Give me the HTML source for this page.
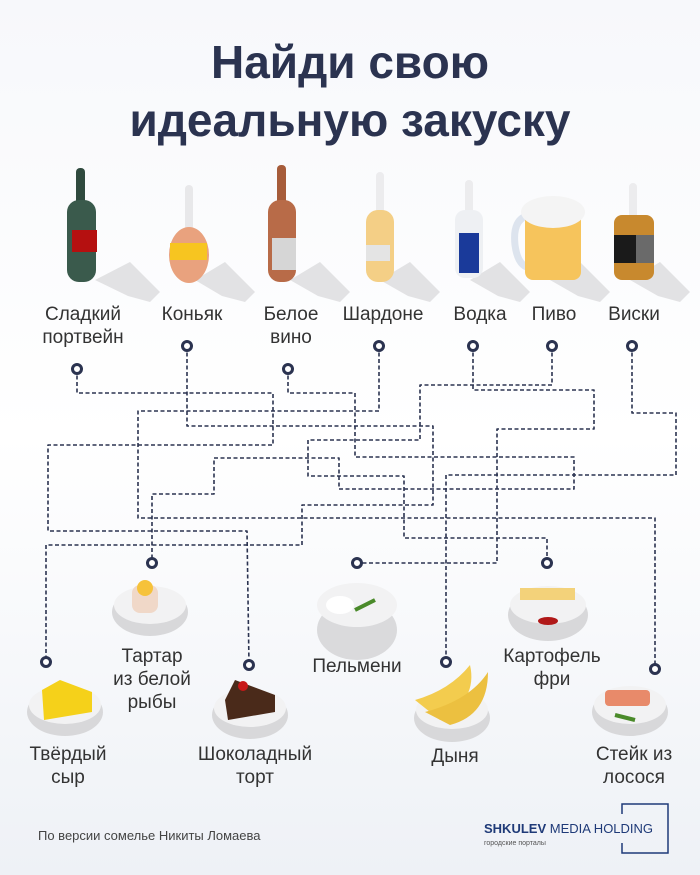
<!DOCTYPE html>
<html><head><meta charset="utf-8"><style>
html,body{margin:0;padding:0;background:#fff}
svg{display:block}
text{font-family:"Liberation Sans",sans-serif}
</style></head><body>
<svg width="700" height="875" viewBox="0 0 700 875" xmlns="http://www.w3.org/2000/svg">
<defs>
<linearGradient id="bg" x1="0" y1="0" x2="0" y2="1"><stop offset="0" stop-color="#f7f8fb"/><stop offset="0.5" stop-color="#ffffff"/><stop offset="1" stop-color="#eef1f6"/></linearGradient>
</defs>
<rect width="700" height="875" fill="url(#bg)"/>
<g fill="#2b3350" font-weight="bold" font-size="46" text-anchor="middle">
<text x="350" y="78">Найди свою</text>
<text x="350" y="136">идеальную закуску</text>
</g>

<g fill="#e2e2e4">
<polygon points="95,280 130,262 160,292 150,302 128,296"/>
<polygon points="195,280 225,262 255,292 245,302 222,296"/>
<polygon points="290,280 320,262 350,292 340,302 318,296"/>
<polygon points="380,280 410,262 440,292 430,302 408,296"/>
<polygon points="470,280 500,262 530,292 520,302 498,296"/>
<polygon points="550,280 580,262 610,292 600,302 578,296"/>
<polygon points="630,280 660,262 690,292 680,302 658,296"/>
</g>
<rect x="76" y="168" width="9" height="40" rx="4" fill="#2f4a3e"/>
<rect x="67" y="200" width="29" height="82" rx="12" fill="#3a5a4c"/>
<rect x="72" y="230" width="25" height="22" fill="#b51010"/>
<rect x="185" y="185" width="8" height="45" rx="4" fill="#e8e8ea"/>
<ellipse cx="189" cy="255" rx="20" ry="28" fill="#e9a27e"/>
<rect x="170" y="243" width="37" height="17" fill="#f7c520"/>
<rect x="277" y="165" width="9" height="45" rx="4" fill="#a65c3a"/>
<rect x="268" y="200" width="28" height="82" rx="12" fill="#b86b48"/>
<rect x="272" y="238" width="24" height="32" fill="#d6d6d6"/>
<rect x="376" y="172" width="8" height="45" rx="4" fill="#ececee"/>
<rect x="366" y="210" width="28" height="72" rx="12" fill="#f4cf86"/>
<rect x="366" y="245" width="24" height="16" fill="#e4e4e4"/>
<rect x="465" y="180" width="8" height="40" rx="4" fill="#ececee"/>
<rect x="455" y="210" width="28" height="68" rx="10" fill="#eef0f3"/>
<rect x="459" y="233" width="20" height="40" fill="#1a3a9a"/>
<path d="M530,215 Q512,218 515,245 Q518,268 532,268" fill="none" stroke="#dde4ee" stroke-width="7"/>
<rect x="525" y="210" width="56" height="70" rx="8" fill="#f6c45c"/>
<ellipse cx="553" cy="212" rx="32" ry="16" fill="#f4f4f4"/>
<rect x="629" y="183" width="8" height="40" rx="4" fill="#ececee"/>
<rect x="614" y="215" width="40" height="65" rx="8" fill="#c8892e"/>
<rect x="614" y="235" width="40" height="28" fill="#1a1a1a"/>
<rect x="636" y="235" width="18" height="28" fill="#6a6a6a"/>

<g fill="#333" font-size="19" text-anchor="middle">
<text x="83" y="320">Сладкий</text><text x="83" y="343">портвейн</text>
<text x="192" y="320">Коньяк</text>
<text x="291" y="320">Белое</text><text x="291" y="343">вино</text>
<text x="383" y="320">Шардоне</text>
<text x="480" y="320">Водка</text>
<text x="554" y="320">Пиво</text>
<text x="634" y="320">Виски</text>
</g>

<g fill="none" stroke="#2b3350" stroke-width="1.6" stroke-dasharray="4,2.5" stroke-linejoin="round">
<polyline points="77,369 77,393 273,393 273,445 48,445 48,531 247,531 249,665"/>
<polyline points="187,346 187,426 433,426 433,505 302,505 302,545 46,545 46,662"/>
<polyline points="379,346 379,411 138,411 138,518 655,518 655,669"/>
<polyline points="288,369 288,393 355,393 355,457 574,457 574,489 339,489 339,458 214,458 214,494 152,494 152,563"/>
<polyline points="552,346 552,385 420,385 420,440 308,440 308,476 404,476 404,538 547,538 547,563"/>
<polyline points="473,346 473,390 594,390 594,429 497,429 497,563 357,563"/>
<polyline points="632,346 632,413 676,413 676,475 446,475 446,662"/>
</g>
<g fill="#fff" stroke="#2b3350" stroke-width="3">
<circle cx="187" cy="346" r="4.5"/><circle cx="379" cy="346" r="4.5"/><circle cx="473" cy="346" r="4.5"/><circle cx="552" cy="346" r="4.5"/><circle cx="632" cy="346" r="4.5"/>
<circle cx="77" cy="369" r="4.5"/><circle cx="288" cy="369" r="4.5"/>
<circle cx="152" cy="563" r="4.5"/><circle cx="357" cy="563" r="4.5"/><circle cx="547" cy="563" r="4.5"/>
<circle cx="46" cy="662" r="4.5"/><circle cx="249" cy="665" r="4.5"/><circle cx="446" cy="662" r="4.5"/><circle cx="655" cy="669" r="4.5"/>
</g>

<g>
<ellipse cx="150" cy="612" rx="38" ry="24" fill="#d8d8da"/><ellipse cx="150" cy="605" rx="36" ry="19" fill="#f2f2f3"/>
<rect x="132" y="585" width="26" height="28" rx="8" fill="#f0d8c8"/><circle cx="145" cy="588" r="8" fill="#f6c23a"/>
<ellipse cx="357" cy="630" rx="40" ry="30" fill="#dadadc"/><ellipse cx="357" cy="605" rx="40" ry="22" fill="#f2f2f3"/>
<ellipse cx="340" cy="605" rx="14" ry="9" fill="#fff"/><path d="M355,610 l20,-10" stroke="#4a8a2a" stroke-width="4"/>
<ellipse cx="548" cy="615" rx="40" ry="26" fill="#d8d8da"/><ellipse cx="548" cy="605" rx="38" ry="19" fill="#f2f2f3"/>
<rect x="520" y="588" width="55" height="12" fill="#f3d27a"/><ellipse cx="548" cy="621" rx="10" ry="4" fill="#b01818"/>
<ellipse cx="65" cy="712" rx="38" ry="24" fill="#d8d8da"/><ellipse cx="65" cy="705" rx="36" ry="19" fill="#f2f2f3"/>
<polygon points="42,690 60,680 92,692 92,712 44,720" fill="#f5d11a"/>
<ellipse cx="250" cy="715" rx="38" ry="24" fill="#d8d8da"/><ellipse cx="250" cy="708" rx="36" ry="19" fill="#f2f2f3"/>
<polygon points="225,700 235,680 275,695 275,712 228,720" fill="#4a2a1a"/><circle cx="243" cy="686" r="5" fill="#c81818"/>
<ellipse cx="452" cy="718" rx="38" ry="24" fill="#d8d8da"/><ellipse cx="452" cy="710" rx="36" ry="19" fill="#f2f2f3"/>
<path d="M415,700 Q450,690 470,665 Q478,700 440,720 Z" fill="#f3cc4e"/><path d="M425,712 Q470,700 488,672 Q488,715 450,725 Z" fill="#ecc040"/>
<ellipse cx="630" cy="712" rx="38" ry="24" fill="#d8d8da"/><ellipse cx="630" cy="705" rx="36" ry="19" fill="#f2f2f3"/>
<rect x="605" y="690" width="45" height="16" rx="4" fill="#e88a6a"/><path d="M615,715 l20,5" stroke="#4a8a2a" stroke-width="4"/>
</g>

<g fill="#333" font-size="19" text-anchor="middle">
<text x="152" y="662">Тартар</text><text x="152" y="685">из белой</text><text x="152" y="708">рыбы</text>
<text x="357" y="672">Пельмени</text>
<text x="552" y="662">Картофель</text><text x="552" y="685">фри</text>
<text x="68" y="760">Твёрдый</text><text x="68" y="783">сыр</text>
<text x="255" y="760">Шоколадный</text><text x="255" y="783">торт</text>
<text x="455" y="762">Дыня</text>
<text x="634" y="760">Стейк из</text><text x="634" y="783">лосося</text>
</g>
<text x="38" y="840" font-size="13" fill="#444">По версии сомелье Никиты Ломаева</text>
<text x="484" y="833" font-size="13" fill="#1f3a78"><tspan font-weight="bold">SHKULEV</tspan> MEDIA HOLDING</text>
<text x="484" y="845" font-size="7" fill="#555">городские порталы</text>
<polyline points="622,814 622,804 668,804 668,853 622,853 622,843" fill="none" stroke="#1f3a78" stroke-width="1.5"/>
</svg>
</body></html>
